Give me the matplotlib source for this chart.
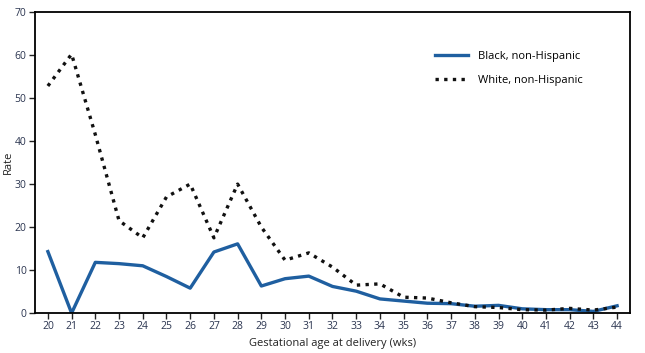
import matplotlib
matplotlib.use('Agg')
import matplotlib.pyplot as plt

weeks = list(range(20, 45))
black = [14.3, 0.0, 11.8, 11.5, 11.0, 8.5, 5.8, 14.2, 16.1, 6.3, 8.0, 8.6, 6.2, 5.1,
         3.3, 2.8, 2.3, 2.2, 1.6, 1.8, 1.0, 0.8, 0.8, 0.4, 1.7]
white = [52.8, 60.2, 41.5, 21.5, 17.5, 27.0, 30.0, 17.5, 30.0, 20.0, 12.3, 14.0, 10.7, 6.5,
         6.8, 3.7, 3.5, 2.4, 1.5, 1.3, 0.8, 0.7, 1.1, 0.7, 1.4]

plt.rcParams['font.family'] = ['Open Sans', 'DejaVu Sans']
fig = plt.figure(figsize=(6.45, 3.53), dpi=100)
ax = fig.add_axes([0.054, 0.113, 0.923, 0.853])

ax.plot(weeks, black, color='#1f5fa0', lw=2.4, label='Black, non-Hispanic')
ax.plot(weeks, white, color='#111111', lw=2.4, linestyle=(0, (1, 1.6)), label='White, non-Hispanic')

ax.set_xlim(19.45, 44.55)
ax.set_ylim(0, 70)
ax.set_xticks(weeks)
ax.set_yticks(range(0, 71, 10))
ax.tick_params(labelsize=7.5, colors='#222222', labelcolor='#2b3550', length=4, width=1, pad=2)
for s in ax.spines.values():
    s.set_linewidth(1.3)
ax.set_ylabel('Rate', fontsize=8, color='#222222')
ax.yaxis.set_label_coords(-0.035, 0.5)
ax.set_xlabel('Gestational age at delivery (wks)', fontsize=8, color='#222222', labelpad=4)

ax.legend(loc='upper left', bbox_to_anchor=(0.655, 0.905), frameon=False, fontsize=8,
          handlelength=3.0, labelspacing=1.2, handletextpad=0.9)

fig.savefig('out.png', dpi=100)
